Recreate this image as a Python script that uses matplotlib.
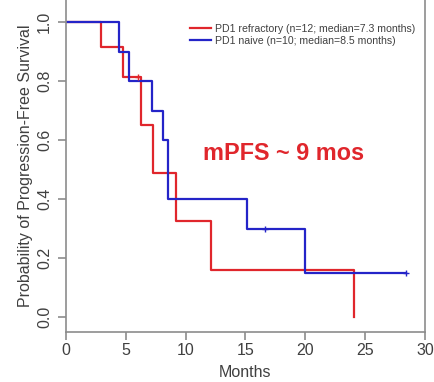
import numpy as np
import matplotlib
matplotlib.use("Agg")
import matplotlib.pyplot as plt

plt.rcParams['font.family'] = ['Liberation Sans', 'DejaVu Sans']

# Kaplan-Meier step values (months, survival probability)
refractory_t = [0, 2.9, 4.8, 6.3, 7.3, 9.2, 12.1, 24.05]
refractory_s = [1.0, 0.917, 0.815, 0.652, 0.489, 0.326, 0.161, 0.0]
refractory_end = 24.05
refractory_cens_t = [6.0]
refractory_cens_s = [0.815]

naive_t = [0, 4.4, 5.3, 7.2, 8.1, 8.5, 15.1, 20.0]
naive_s = [1.0, 0.9, 0.8, 0.7, 0.6, 0.4, 0.3, 0.15]
naive_end = 28.4
naive_cens_t = [16.6, 28.4]
naive_cens_s = [0.3, 0.15]

labels = ["PD1 refractory (n=12; median=7.3 months)",
          "PD1 naive (n=10; median=8.5 months)"]

red = "#e0262c"
blue = "#2424c8"
grey = "#8c8c8c"
txt = "#404040"

fig = plt.figure(figsize=(4.34, 3.82), dpi=100)
ax = fig.add_axes([0.152, 0.130, 0.827, 0.870])

# extend each curve to its last follow-up time
rt = refractory_t + [refractory_end]
rs = refractory_s + [refractory_s[-1]]
nt = naive_t + [naive_end]
ns = naive_s + [naive_s[-1]]

ax.step(rt, rs, where='post', color=red, lw=1.6, label=labels[0])
ax.step(nt, ns, where='post', color=blue, lw=1.6, label=labels[1])
ax.plot(refractory_cens_t, refractory_cens_s, '+', color=red, ms=5, mew=1)
ax.plot(naive_cens_t, naive_cens_s, '+', color=blue, ms=5, mew=1)

ax.text(11.45, 0.555, "mPFS ~ 9 mos", color=red, fontsize=16.9,
        fontweight='bold', ha='left', va='center')

ax.set_xlim(0, 30)
ax.set_ylim(-0.0508, 1.0745)
ax.set_xticks([0, 5, 10, 15, 20, 25, 30])
ax.set_yticks([0.0, 0.2, 0.4, 0.6, 0.8, 1.0])
ax.set_yticklabels(["0.0", "0.2", "0.4", "0.6", "0.8", "1.0"],
                   rotation=90, va='center')

for side in ['left', 'bottom', 'right']:
    ax.spines[side].set_color(grey)
    ax.spines[side].set_linewidth(1.2)
ax.spines['top'].set_visible(False)

ax.tick_params(axis='both', colors=grey, labelcolor=txt, labelsize=11.5,
               length=6, width=1.2)
ax.tick_params(axis='x', pad=2)
ax.tick_params(axis='y', pad=4)

ax.set_xlabel("Months", fontsize=11.5, color=txt, labelpad=5)
ax.set_ylabel("Probability of Progression-Free Survival", fontsize=11.5,
              color=txt, labelpad=3)

ax.legend(loc='upper left', bbox_to_anchor=(0.345, 0.928), frameon=False,
          fontsize=7.6, handlelength=2.0, handletextpad=0.4,
          labelspacing=0.2, borderpad=0, borderaxespad=0, labelcolor=txt)

fig.savefig("out.png", dpi=100)
